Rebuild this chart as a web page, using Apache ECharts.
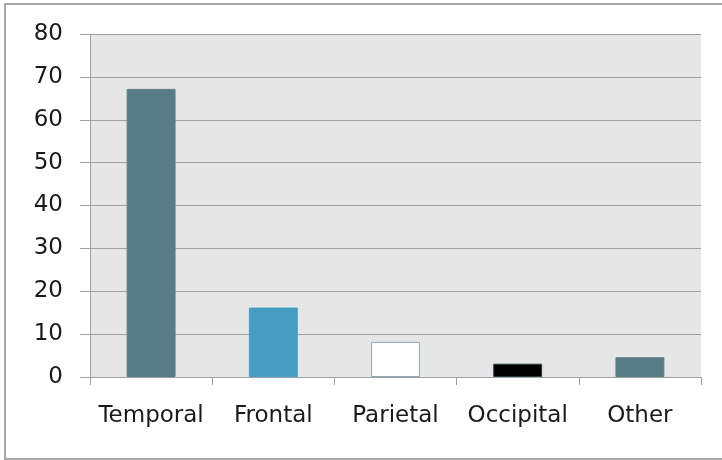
<!DOCTYPE html>
<html>
<head>
<meta charset="utf-8">
<script src="https://cdn.jsdelivr.net/npm/echarts@6/dist/echarts.min.js"></script>
<style>
html,body{margin:0;padding:0;background:#fff;}
#chart{width:722px;height:460px;}
</style>
</head>
<body>
<div id="chart"></div>
<script>
const categories = ['Temporal', 'Frontal', 'Parietal', 'Occipital', 'Other'];
const values = [67.2, 16.2, 8.2, 3.1, 4.6];
const barColors = ['#587c87', '#469dc1', '#ffffff', '#000000', '#587c87'];
const barBorders = ['#587c87', '#469dc1', '#8fa8b2', '#2a3a40', '#587c87'];
const yTicks = [0, 10, 20, 30, 40, 50, 60, 70, 80];

const chart = echarts.init(document.getElementById('chart'), null, {renderer: 'canvas'});
const font = '"DejaVu Sans", sans-serif';
chart.setOption({
  animation: false,
  backgroundColor: '#ffffff',
  grid: {left: 90, right: 21, top: 34, bottom: 83, show: true, backgroundColor: '#e6e6e6', borderWidth: 0},
  graphic: [
    {type: 'polyline', shape: {points: [[722, 4], [5, 4], [5, 459], [722, 459]]},
     style: {stroke: '#a8a8a8', lineWidth: 2, fill: null}, silent: true}
  ],
  xAxis: {
    type: 'category',
    data: categories,
    axisLine: {show: true, lineStyle: {color: '#a0a0a0', width: 1}},
    axisTick: {show: true, interval: 0, length: 8, alignWithLabel: false, lineStyle: {color: '#a0a0a0'}},
    axisLabel: {interval: 0, color: '#1a1a1a', fontFamily: font, fontSize: 23, margin: 28}
  },
  yAxis: {
    type: 'value',
    min: yTicks[0],
    max: yTicks[yTicks.length - 1],
    interval: 10,
    axisLine: {show: true, lineStyle: {color: '#a0a0a0', width: 1}},
    axisTick: {show: true, length: 10, lineStyle: {color: '#a0a0a0'}},
    splitLine: {show: true, lineStyle: {color: '#a0a0a0', width: 1}},
    axisLabel: {color: '#1a1a1a', fontFamily: font, fontSize: 23, margin: 27}
  },
  series: [{
    type: 'bar',
    barWidth: '40%',
    data: values.map((v, i) => ({
      value: v,
      itemStyle: {color: barColors[i], borderColor: barBorders[i], borderWidth: 1}
    }))
  }]
});
</script>
</body>
</html>
